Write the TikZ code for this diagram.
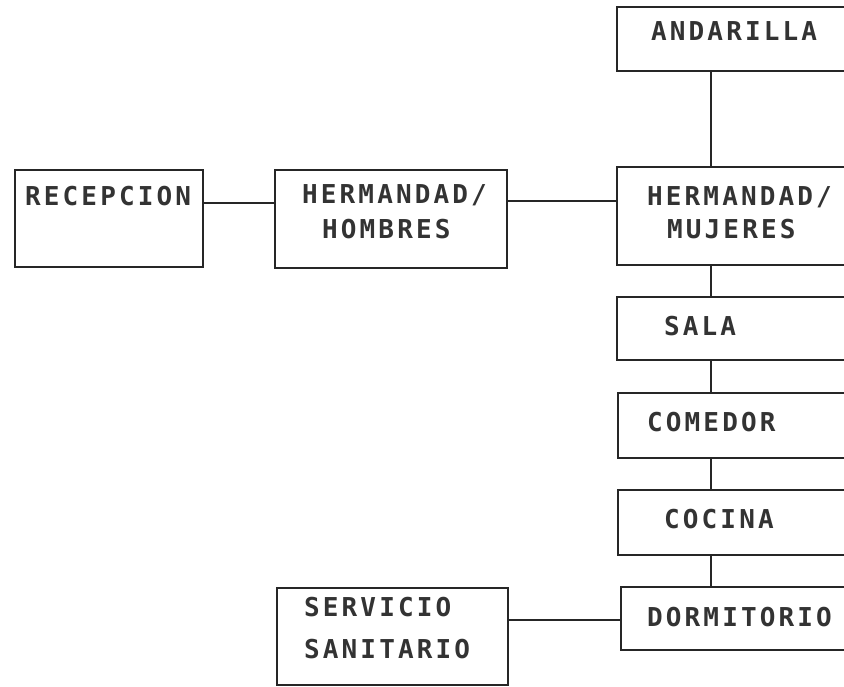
\documentclass[tikz,border=0pt]{standalone}
\usepackage{fontspec}
\setmainfont{DejaVu Sans Mono}[LetterSpace=12]
\begin{document}
\begin{tikzpicture}[x=1pt,y=-1pt,
  box/.style={draw=black!85, line width=2.8pt, inner sep=0pt, outer sep=0pt, anchor=north west},
  lbl/.style={anchor=west, inner sep=0pt, font=\fontsize{26}{32}\selectfont\bfseries, text=black!80},
  conn/.style={draw=black!85, line width=2.8pt}]
\useasboundingbox (0,0) rectangle (844,686);
\clip (0,0) rectangle (844,686);
\fill[white] (0,0) rectangle (844,686);
% boxes
\node[box, minimum width=270pt, minimum height=64pt] (andarilla) at (617,7) {};
\node[box, minimum width=270pt, minimum height=98pt] (hmuj) at (617,167) {};
\node[box, minimum width=188pt, minimum height=97pt] (recep) at (15,170) {};
\node[box, minimum width=232pt, minimum height=98pt] (hhom) at (275,170) {};
\node[box, minimum width=270pt, minimum height=63pt] (sala) at (617,297) {};
\node[box, minimum width=270pt, minimum height=65pt] (comedor) at (618,393) {};
\node[box, minimum width=270pt, minimum height=65pt] (cocina) at (618,490) {};
\node[box, minimum width=270pt, minimum height=63pt] (dormit) at (621,587) {};
\node[box, minimum width=231pt, minimum height=97pt] (servicio) at (277,588) {};
% labels
\node[lbl] (t1) at (651,31) {ANDARILLA};
\node[lbl] (t2) at (647,197) {HERMANDAD/};
\node[lbl] (t3) at (667,229) {MUJERES};
\node[lbl] (t4) at (25,196) {RECEPCION};
\node[lbl] (t5) at (302,195) {HERMANDAD/};
\node[lbl] (t6) at (322,229) {HOMBRES};
\node[lbl] (t7) at (664,326) {SALA};
\node[lbl] (t8) at (647,422) {COMEDOR};
\node[lbl] (t9) at (664,519) {COCINA};
\node[lbl] (t10) at (647,617) {DORMITORIO};
\node[lbl] (t11) at (304,607) {SERVICIO};
\node[lbl] (t12) at (304,649) {SANITARIO};
% connector helpers
\coordinate (colx) at (711,0);
\coordinate (row1) at (0,203);
\coordinate (row2) at (0,201);
\coordinate (row3) at (0,620);
% connectors
\draw[conn] (andarilla.south -| colx) -- (hmuj.north -| colx);
\draw[conn] (hmuj.south -| colx) -- (sala.north -| colx);
\draw[conn] (sala.south -| colx) -- (comedor.north -| colx);
\draw[conn] (comedor.south -| colx) -- (cocina.north -| colx);
\draw[conn] (cocina.south -| colx) -- (dormit.north -| colx);
\draw[conn] (recep.east |- row1) -- (hhom.west |- row1);
\draw[conn] (hhom.east |- row2) -- (hmuj.west |- row2);
\draw[conn] (servicio.east |- row3) -- (dormit.west |- row3);
\end{tikzpicture}
\end{document}
